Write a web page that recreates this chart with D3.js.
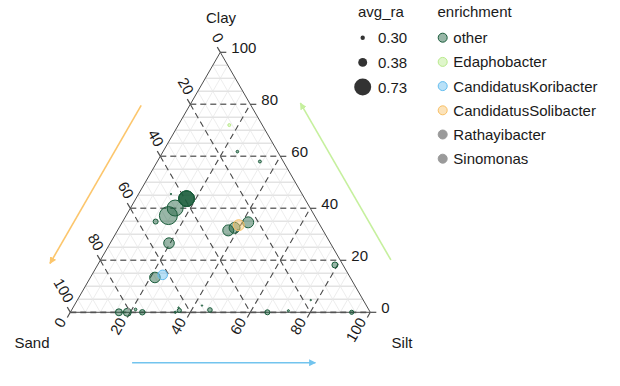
<!DOCTYPE html>
<html>
<head>
<meta charset="utf-8">
<script src="https://cdn.jsdelivr.net/npm/d3@7"></script>
<style>
body { margin: 0; background: #fff; }
text { font-family: "Liberation Sans", Arial, sans-serif; font-size: 15px; fill: #1a1a1a; }
</style>
</head>
<body>
<svg id="chart" width="620" height="386"></svg>
<script>
// Data: soil composition (%) per genus
const sand  = [48.7, 45.0, 39.4, 39.4, 39.4, 39.4, 54.1, 43.7, 53.8, 65.1, 62.0, 31.6, 29.0, 23.4, 27.1, 11.0, 13.4, 7.8, 2.7,
               83.8, 81.0, 77.7, 76.0, 65.0, 63.3, 63.0, 54.8, 53.0, 34.3, 27.0, 17.5, 6.2, 79.9, 79.9];
const silt  = [14.1, 14.9, 16.9, 16.9, 16.9, 16.9, 11.0, 10.8, 19.6, 21.5, 23.6, 36.9, 38.5, 42.0, 39.4, 17.0, 24.8, 34.2, 79.1,
               16.2, 19.0, 21.2, 24.0, 35.0, 36.0, 35.2, 42.6, 46.1, 65.7, 72.4, 77.8, 93.8, 18.8, 18.8];
const clay  = [37.2, 40.1, 43.7, 43.7, 43.7, 43.7, 34.9, 45.5, 26.6, 13.4, 14.4, 31.5, 32.5, 34.6, 33.5, 72.0, 61.8, 58.0, 18.2,
               0.0, 0.0, 1.1, 0.0, 0.0, 0.7, 1.8, 2.6, 0.9, 0.0, 0.6, 4.7, 0.0, 1.3, 1.3];
const avgRa = [0.858, 0.730, 0.706, 0.706, 0.706, 0.706, 0.319, 0.292, 0.466, 0.466, 0.430, 0.481, 0.481, 0.481, 0.481, 0.297, 0.295, 0.297, 0.335,
               0.356, 0.381, 0.295, 0.325, 0.293, 0.308, 0.292, 0.292, 0.313, 0.319, 0.293, 0.292, 0.308, 0.292, 0.292];
const enrichment = ["other", "other", "other", "other", "other", "other", "other", "other", "other", "other", "CandidatusKoribacter",
                    "other", "other", "other", "CandidatusSolibacter", "Edaphobacter", "other", "other", "other",
                    "other", "other", "other", "other", "other", "other", "other", "other", "other", "other", "other", "other", "other",
                    "Rathayibacter", "Sinomonas"];

const groups = ["other", "Edaphobacter", "CandidatusKoribacter", "CandidatusSolibacter", "Rathayibacter", "Sinomonas"];
const groupColors = ["#1b5d3c", "#b9ea8c", "#63bdef", "#f8c066", "#9a9a9a", "#9a9a9a"];
const sizeBreaks = [0.30, 0.38, 0.73];
const axisTicks = [0, 20, 40, 60, 80, 100];

const svg = d3.select("#chart");

// cartesian scales for the triangle
const x = d3.scaleLinear().domain([0, 100]).range([70.3, 370.3]);
const y = d3.scaleLinear().domain([0, 100]).range([312.3, 52.3]);
const tern = (s, t, c) => {
  const sum = s + t + c;
  return [x((t + c / 2) / sum * 100), y(c / sum * 100)];
};

const color = d3.scaleOrdinal().domain(groups).range(groupColors);
const size = d3.scaleSqrt().domain([0, 0.58]).range([1.2, 9.6]);
const radius = v => size(Math.max(0, v - 0.292));

const line = d3.line();
const grid = svg.append("g");

// minor grid every 5
const minor = d3.range(5, 100, 5).filter(v => v % 20 !== 0);
minor.forEach(v => {
  [[tern(100 - v, 0, v), tern(0, 100 - v, v)],
   [tern(v, 0, 100 - v), tern(v, 100 - v, 0)],
   [tern(100 - v, v, 0), tern(0, v, 100 - v)]].forEach((seg, i) => {
    grid.append("path").attr("d", line(seg))
      .attr("stroke", i === 0 ? "#e3e3e3" : "#e9e9e9")
      .attr("stroke-width", i === 0 ? 1.4 : 0.8)
      .attr("fill", "none");
  });
});

// major dashed grid
[20, 40, 60, 80].forEach(v => {
  [[tern(100 - v, 0, v), tern(0, 100 - v, v)],
   [tern(v, 0, 100 - v), tern(v, 100 - v, 0)],
   [tern(100 - v, v, 0), tern(0, v, 100 - v)]].forEach((seg, i) => {
    grid.append("path").attr("d", line(seg))
      .attr("stroke", i === 0 ? "#6e6e6e" : "#4a4a4a")
      .attr("stroke-width", i === 0 ? 1.6 : 1.1)
      .attr("stroke-dasharray", "6,4").attr("fill", "none");
  });
});
grid.append("path").attr("d", line([tern(100, 0, 0), tern(0, 100, 0)]))
  .attr("stroke", "#6e6e6e").attr("stroke-width", 1.8)
  .attr("stroke-dasharray", "6,4").attr("fill", "none");

// triangle border
svg.append("path")
  .attr("d", line([tern(0, 0, 100), tern(100, 0, 0), tern(0, 100, 0)]) + "Z")
  .attr("fill", "none").attr("stroke", "#4d4d4d").attr("stroke-width", 1);

// ticks and labels
const tk = svg.append("g").attr("stroke", "#4d4d4d").attr("stroke-width", 1.2);
const lb = svg.append("g");
axisTicks.forEach(v => {
  // Clay on right edge
  let p = tern(0, 100 - v, v);
  tk.append("path").attr("d", line([p, [p[0] + 6, p[1]]]));
  lb.append("text").attr("x", p[0] + 11).attr("y", p[1] - 5)
    .attr("dominant-baseline", "central").text(v);
  // Sand on left edge
  p = tern(v, 0, 100 - v);
  tk.append("path").attr("d", line([p, [p[0] - 3, p[1] - 5.2]]));
  lb.append("text").attr("transform", `translate(${p[0]},${p[1] - 11}) rotate(60)`)
    .attr("text-anchor", "end").attr("dominant-baseline", "central").text(v);
  // Silt on bottom edge
  p = tern(100 - v, v, 0);
  tk.append("path").attr("d", line([p, [p[0] - 3, p[1] + 5.2]]));
  lb.append("text").attr("transform", `translate(${p[0] - 8.3},${p[1] + 6.5}) rotate(-60)`)
    .attr("text-anchor", "end").attr("dominant-baseline", "central").text(v);
});

// axis titles
svg.append("text").attr("x", 221).attr("y", 23).attr("text-anchor", "middle").text("Clay");
svg.append("text").attr("x", 32).attr("y", 348).attr("text-anchor", "middle").text("Sand");
svg.append("text").attr("x", 402).attr("y", 348).attr("text-anchor", "middle").text("Silt");

// direction arrows, placed along each edge and pushed outward
const defs = svg.append("defs");
const arrows = [
  { name: "sand", col: "#fcc66c", a: tern(28.5, 0, 71.5), b: tern(89.3, 0, 10.7), off: [-0.866 * 42, -0.5 * 42] },
  { name: "clay", col: "#c6f09e", a: tern(0, 88.3, 11.7), b: tern(0, 28, 72), off: [0.866 * 44, -0.5 * 44] },
  { name: "silt", col: "#72c4ee", a: tern(79.4, 20.6, 0), b: tern(18.3, 81.7, 0), off: [0, 50.4] }
];
arrows.forEach(ar => {
  defs.append("marker").attr("id", "head-" + ar.name)
    .attr("viewBox", "0 0 10 10").attr("refX", 9).attr("refY", 5)
    .attr("markerWidth", 7).attr("markerHeight", 7).attr("markerUnits", "userSpaceOnUse")
    .attr("orient", "auto")
    .append("path").attr("d", "M0,0L10,5L0,10Z").attr("fill", ar.col);
  svg.append("path")
    .attr("d", line([[ar.a[0] + ar.off[0], ar.a[1] + ar.off[1]], [ar.b[0] + ar.off[0], ar.b[1] + ar.off[1]]]))
    .attr("stroke", ar.col).attr("stroke-width", 1.6).attr("fill", "none")
    .attr("marker-end", `url(#head-${ar.name})`);
});

// points
const pts = d3.range(sand.length);
svg.append("g").selectAll("circle").data(pts).join("circle")
  .attr("cx", i => tern(sand[i], silt[i], clay[i])[0])
  .attr("cy", i => tern(sand[i], silt[i], clay[i])[1])
  .attr("r", i => Math.max(0.5, radius(avgRa[i]) - 0.5))
  .attr("fill", i => color(enrichment[i])).attr("fill-opacity", 0.45)
  .attr("stroke", i => color(enrichment[i])).attr("stroke-width", 1);

// legend: avg_ra
const lg1 = svg.append("g");
lg1.append("text").attr("x", 358).attr("y", 17).text("avg_ra");
sizeBreaks.forEach((v, i) => {
  const cy = 37.7 + i * 24.7;
  lg1.append("circle").attr("cx", 362.7).attr("cy", cy).attr("r", radius(v)).attr("fill", "#333");
  lg1.append("text").attr("x", 378).attr("y", cy).attr("dominant-baseline", "central").text(v.toFixed(2));
});

// legend: enrichment
const lg2 = svg.append("g");
lg2.append("text").attr("x", 437.5).attr("y", 17).text("enrichment");
groups.forEach((g, i) => {
  const cy = 37.7 + i * 24.2;
  const gray = g === "Rathayibacter" || g === "Sinomonas";
  lg2.append("circle").attr("cx", 442.7).attr("cy", cy).attr("r", 4.5)
    .attr("fill", color(g)).attr("fill-opacity", gray ? 1 : 0.45)
    .attr("stroke", color(g)).attr("stroke-width", 1);
  lg2.append("text").attr("x", 453.3).attr("y", cy).attr("dominant-baseline", "central").text(g);
});
</script>
</body>
</html>
